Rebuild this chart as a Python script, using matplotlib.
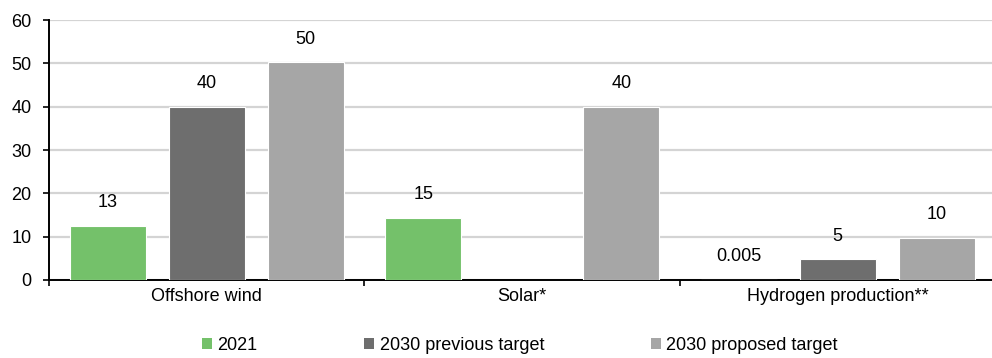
import numpy as np
import matplotlib
matplotlib.use("Agg")
import matplotlib.pyplot as plt
from matplotlib.patches import Patch

plt.rcParams['font.family'] = ['Liberation Sans', 'DejaVu Sans']

categories = ['Offshore wind', 'Solar*', 'Hydrogen production**']
series = ['2021', '2030 previous target', '2030 proposed target']
# bar heights as drawn, and the value labels printed above them
vals_2021 = [12.5, 14.4, 0.005]
vals_prev = [40, np.nan, 4.8]
vals_prop = [50.2, 40, 9.8]
labels_2021 = ['13', '15', '0.005']
labels_prev = ['40', '', '5']
labels_prop = ['50', '40', '10']
colors = ['#74c16a', '#6e6e6e', '#a6a6a6']

fs = 13

fig = plt.figure(figsize=(9.92, 3.58), dpi=100)
ax = fig.add_axes([0.0494, 0.218, 0.954, 0.726])

x = np.arange(len(categories))
off = 0.314
w = 0.241
for k, (vals, labs) in enumerate([(vals_2021, labels_2021),
                                  (vals_prev, labels_prev),
                                  (vals_prop, labels_prop)]):
    xs = x + (k - 1) * off
    ax.bar(xs, vals, width=w, color=colors[k], edgecolor='white',
           linewidth=0.8, zorder=3)
    for xi, v, lab in zip(xs, vals, labs):
        if lab == '' or np.isnan(v):
            continue
        ax.annotate(lab, (xi, v), xytext=(0, 23), textcoords='offset pixels',
                    ha='center', va='center', fontsize=fs, color='black')

ax.set_xlim(-0.5, 2.5)
ax.set_ylim(0, 60)
ax.set_yticks(range(0, 61, 10))
ax.yaxis.grid(True, color='#d4d4d4', linewidth=1.6, zorder=0)
ax.set_axisbelow(True)
ax.tick_params(axis='y', labelsize=fs, length=4.3, width=1.2, direction='out', pad=8.3)

# group separator ticks on x axis, labels in the middle
ax.set_xticks([-0.5, 0.5, 1.5, 2.5])
ax.set_xticklabels([])
ax.set_xticks(x, minor=True)
ax.set_xticklabels(categories, minor=True, fontsize=fs)
ax.tick_params(axis='x', which='major', length=4.3, width=1.2, direction='out')
ax.tick_params(axis='x', which='minor', length=0, pad=6)

for s in ['top', 'right']:
    ax.spines[s].set_visible(False)
for s in ['left', 'bottom']:
    ax.spines[s].set_linewidth(1.4)
    ax.spines[s].set_color('black')

handles = [Patch(facecolor=c, edgecolor='none') for c in colors]
fig.legend(handles, series, loc='center', bbox_to_anchor=(0.524, 0.036),
           ncol=3, frameon=False, fontsize=fs, handlelength=0.55,
           handleheight=0.55, handletextpad=0.3, columnspacing=5.9)

fig.savefig('out.png', dpi=100)
